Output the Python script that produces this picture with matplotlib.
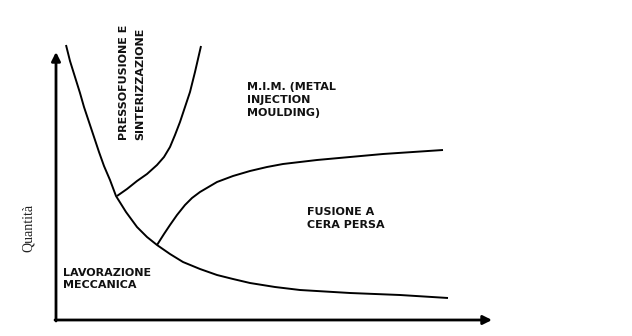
import matplotlib
matplotlib.use("Agg")
import matplotlib.pyplot as plt

# Curve values (x: production volume units, y: quantity units)
lav_x = [10, 14, 19, 24, 28, 33, 38, 43, 48, 54, 60, 70, 81, 91, 101, 114, 127,
         144, 161, 177, 194, 219, 244, 294, 344, 392]
lav_y = [275, 259, 243, 227, 213, 198, 183, 168, 154, 140, 124, 108, 93, 83, 75,
         66, 58, 51, 45, 41, 37, 33, 30, 27, 25, 22]

pres_x = [61, 71, 81, 91, 101, 108, 114, 119, 124, 129, 134, 139, 145]
pres_y = [124, 131, 139, 146, 155, 163, 173, 185, 198, 213, 228, 248, 274]

mim_x = [101, 108, 114, 121, 129, 136, 144, 161, 177, 194, 211, 227, 244, 261,
         294, 327, 357, 387]
mim_y = [75, 86, 95, 105, 115, 122, 128, 138, 144, 149, 153, 156, 158, 160,
         163, 166, 168, 170]

labels = ["LAVORAZIONE\nMECCANICA", "M.I.M. (METAL\nINJECTION\nMOULDING)",
          "FUSIONE A\nCERA PERSA"]
label_pos = [(7, 41), (191, 220), (251, 101.5)]
rot_label = "PRESSOFUSIONE E\nSINTERIZZAZIONE"
ylabel = "Quantità"

fig = plt.figure(figsize=(6.32, 3.36), dpi=100)
fig.patch.set_facecolor("white")
ax = fig.add_axes([56 / 632, 16 / 336, 436 / 632, 268 / 336])
ax.set_xlim(0, 436)
ax.set_ylim(0, 268)
ax.axis("off")

# axes arrows
ax.annotate("", xy=(436, 0), xytext=(-1, 0),
            arrowprops=dict(arrowstyle="-|>", lw=2, color="black",
                            mutation_scale=13, shrinkA=0, shrinkB=0),
            annotation_clip=False)
ax.annotate("", xy=(0, 268), xytext=(0, -1),
            arrowprops=dict(arrowstyle="-|>", lw=2, color="black",
                            mutation_scale=13, shrinkA=0, shrinkB=0),
            annotation_clip=False)

for xs, ys in [(lav_x, lav_y), (pres_x, pres_y), (mim_x, mim_y)]:
    ax.plot(xs, ys, color="black", lw=1.4, clip_on=False,
            solid_joinstyle="round", solid_capstyle="butt")

for txt, (x, y) in zip(labels, label_pos):
    ax.text(x, y, txt, ha="left", va="center", fontsize=8, fontweight="bold",
            family="DejaVu Sans", linespacing=1.35, color="#111111")

ax.text(76, 180, rot_label, rotation=90, ha="center", va="bottom",
        fontsize=8, fontweight="bold", family="DejaVu Sans",
        linespacing=1.8, multialignment="left", color="#111111")

ax.text(-28, 92, ylabel, rotation=90, ha="center", va="center",
        fontsize=10, family="Liberation Serif", color="#222222")

fig.savefig("out.png", dpi=100, facecolor="white")
